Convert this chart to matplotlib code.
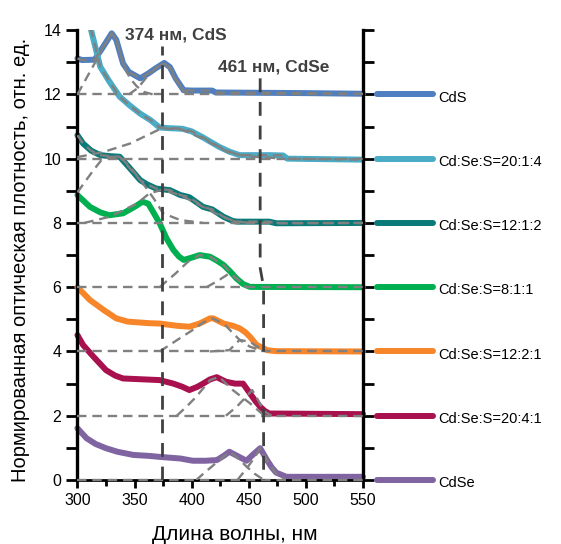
import matplotlib
matplotlib.use('Agg')
import matplotlib.pyplot as plt
from matplotlib.ticker import MultipleLocator

plt.rcParams['font.family'] = ['Liberation Sans', 'DejaVu Sans']

# --- data (wavelength, nm / offset optical density) ---
cds_x = [300, 304, 315, 322, 330, 334, 340, 345, 355, 362, 368, 376, 381, 386, 393, 400, 418, 421, 500, 550]
cds_y = [13.12, 13.07, 13.08, 13.45, 13.9, 13.7, 12.96, 12.7, 12.5, 12.65, 12.8, 12.98, 12.85, 12.5, 12.13, 12.12, 12.12, 12.06, 12.04, 12.02]

s2014_x = [300, 305, 312, 320, 328, 337, 346, 355, 364, 372, 380, 392, 400, 410, 424, 433, 442, 448, 468, 480, 484, 550]
s2014_y = [15.3, 14.7, 14.0, 12.86, 12.4, 11.93, 11.65, 11.4, 11.2, 10.97, 10.95, 10.93, 10.85, 10.66, 10.37, 10.22, 10.11, 10.11, 10.11, 10.1, 10.0, 9.97]

s1212_x = [300, 305, 312, 320, 328, 337, 346, 355, 361, 369, 381, 390, 398, 410, 418, 428, 436, 440, 468, 474, 550]
s1212_y = [10.73, 10.47, 10.25, 10.11, 10.08, 10.06, 9.7, 9.33, 9.2, 9.07, 9.02, 8.87, 8.8, 8.5, 8.42, 8.19, 8.06, 8.04, 8.04, 7.99, 8.0]

s811_x = [300, 305, 311, 320, 328, 340, 350, 357, 362, 367, 372, 378, 384, 389, 393, 400, 407, 416, 422, 428, 434, 439, 445, 451, 550]
s811_y = [8.87, 8.7, 8.5, 8.33, 8.24, 8.3, 8.5, 8.66, 8.6, 8.3, 7.99, 7.52, 7.16, 6.95, 6.85, 6.92, 7.0, 6.95, 6.83, 6.69, 6.48, 6.28, 6.1, 6.01, 6.0]

s1221_x = [300, 311, 323, 334, 344, 363, 372, 387, 398, 407, 416, 419, 428, 436, 442, 447, 451, 457, 462, 466, 474, 550]
s1221_y = [6.0, 5.6, 5.29, 5.03, 4.93, 4.88, 4.87, 4.8, 4.77, 4.87, 5.03, 5.03, 4.87, 4.8, 4.72, 4.6, 4.46, 4.2, 4.12, 4.04, 4.01, 4.0]

s2041_x = [300, 305, 314, 325, 333, 340, 372, 384, 392, 398, 405, 410, 416, 422, 430, 438, 445, 451, 456, 460, 464, 468, 550]
s2041_y = [4.51, 4.2, 3.84, 3.42, 3.25, 3.16, 3.11, 3.0, 2.9, 2.8, 2.9, 3.0, 3.13, 3.2, 3.06, 3.0, 3.0, 2.7, 2.45, 2.28, 2.15, 2.07, 2.05]

cdse_x = [300, 308, 316, 325, 335, 349, 363, 372, 390, 401, 412, 422, 428, 433, 440, 448, 454, 460, 466, 470, 474, 483, 550]
cdse_y = [1.61, 1.3, 1.12, 0.99, 0.88, 0.78, 0.75, 0.72, 0.67, 0.6, 0.6, 0.62, 0.75, 0.88, 0.75, 0.6, 0.8, 0.99, 0.62, 0.4, 0.23, 0.1, 0.1]

# fitted components (grey dashed)
comp_x = [
    [300, 307, 315, 322, 330, 334, 340, 346, 352, 358, 366],
    [345, 353, 362, 368, 376, 381, 386, 393, 402],
    [300, 322, 346, 374, 392, 410, 433, 448, 465, 480],
    [300, 307, 314, 322, 330, 337, 346, 358, 367, 375, 390, 410],
    [306, 328, 352, 363, 374, 390, 410, 427, 440, 455],
    [372, 386, 397, 407, 416, 428, 439, 448],
    [413, 423, 433, 440, 448],
    [372, 387, 401, 410, 418, 428, 442, 451, 461],
    [416, 433, 442, 451, 463],
    [387, 396, 404, 416, 424, 436, 451, 462],
    [430, 440, 448, 453, 458, 463, 470],
    [404, 412, 422, 433, 440, 448, 455, 462],
    [440, 448, 455, 460, 466, 474, 482],
]
comp_y = [
    [12.0, 12.45, 12.96, 13.45, 13.9, 13.7, 12.96, 12.5, 12.25, 12.08, 12.0],
    [12.0, 12.2, 12.6, 12.8, 12.96, 12.8, 12.45, 12.1, 12.0],
    [10.05, 10.2, 10.47, 10.95, 10.9, 10.62, 10.18, 10.08, 10.04, 10.0],
    [8.95, 9.3, 9.64, 10.0, 10.06, 10.06, 9.75, 9.2, 8.75, 8.3, 8.09, 8.0],
    [8.0, 8.19, 8.6, 8.92, 9.03, 8.87, 8.5, 8.19, 8.03, 8.0],
    [6.0, 6.43, 6.8, 7.0, 6.95, 6.69, 6.28, 6.0],
    [6.0, 6.2, 6.43, 6.25, 6.0],
    [4.0, 4.35, 4.67, 4.9, 5.03, 4.87, 4.36, 4.15, 4.03],
    [4.0, 4.04, 4.36, 4.3, 4.03],
    [2.0, 2.3, 2.59, 3.11, 3.21, 2.8, 2.39, 2.05],
    [2.0, 2.3, 2.6, 2.8, 2.5, 2.15, 2.0],
    [0.0, 0.25, 0.55, 0.88, 0.7, 0.42, 0.2, 0.03],
    [0.0, 0.35, 0.7, 0.99, 0.6, 0.2, 0.0],
]

series_x = [cds_x, s2014_x, s1212_x, s811_x, s1221_x, s2041_x, cdse_x]
series_y = [cds_y, s2014_y, s1212_y, s811_y, s1221_y, s2041_y, cdse_y]
names = ['CdS', 'Cd:Se:S=20:1:4', 'Cd:Se:S=12:1:2', 'Cd:Se:S=8:1:1',
         'Cd:Se:S=12:2:1', 'Cd:Se:S=20:4:1', 'CdSe']
colors = ['#4f7fc0', '#4bacc6', '#0a7a78', '#00b050', '#f7862a', '#a8104e', '#8064a2']
baselines = [12, 10, 8, 6, 4, 2, 0]
fit_shown = [True, True, True, False, False, False, False]

peaks = [374, 461]
peak_labels = ['374 нм, CdS', '461 нм, CdSe']

fig = plt.figure(figsize=(5.61, 5.44), dpi=100)
ax = fig.add_axes([0.138, 0.1176, 0.509, 0.827])

grey = '#808080'
for x, y, c, b, fit in zip(series_x, series_y, colors, baselines, fit_shown):
    ax.plot(x, y, color=c, lw=4.3, solid_capstyle='round', solid_joinstyle='round',
            zorder=2, clip_on=(max(y) > 14))
    ax.plot([300, 550], [b, b], color=grey, lw=1.7, dashes=(4, 2.5), zorder=3, clip_on=False)
    if fit:
        ax.plot(x, y, color=grey, lw=1.7, dashes=(4, 2.5), zorder=3)

for cx, cy in zip(comp_x, comp_y):
    ax.plot(cx, cy, color=grey, lw=1.7, dashes=(4, 2.5), zorder=3)

# vertical markers
ax.plot([peaks[0], peaks[0]], [0, 13.5], color='#404040', lw=2, dashes=(5, 3.5), zorder=4)
ax.plot([peaks[1] - 1, peaks[1] - 1, peaks[1] + 2, peaks[1] + 2], [12.5, 6.6, 6.0, 0],
        color='#404040', lw=2, dashes=(5, 3.5), zorder=4)
ax.text(342, 13.85, peak_labels[0], fontsize=12.5, fontweight='bold', color='#404040',
        va='center', ha='left')
ax.text(423, 12.85, peak_labels[1], fontsize=12.5, fontweight='bold', color='#404040',
        va='center', ha='left')

# legend as line samples beside the right axis
for n, c, b in zip(names, colors, baselines):
    ax.plot([562, 611], [b, b], color=c, lw=4.3, solid_capstyle='round', clip_on=False)
    ax.text(616, b - 0.1, n, fontsize=10.5, va='center', ha='left')

ax.set_xlim(300, 550)
ax.set_ylim(0, 14)
ax.xaxis.set_major_locator(MultipleLocator(50))
ax.xaxis.set_minor_locator(MultipleLocator(25))
ax.yaxis.set_major_locator(MultipleLocator(2))
ax.yaxis.set_minor_locator(MultipleLocator(1))
ax.tick_params(which='both', direction='out', width=2, labelsize=11.5)
ax.tick_params(axis='y', which='both', length=8, right=True)
ax.tick_params(axis='x', which='major', length=6)
ax.tick_params(axis='x', which='minor', length=4)
ax.spines['top'].set_visible(False)
for s in ['left', 'right']:
    ax.spines[s].set_linewidth(2.4)
ax.spines['bottom'].set_linewidth(2)

ax.set_xlabel('Длина волны, нм', fontsize=15, labelpad=12)
ax.xaxis.set_label_coords(0.55, -0.1)
ax.set_ylabel('Нормированная оптическая плотность, отн. ед.', fontsize=14.5, labelpad=4)
ax.yaxis.set_label_coords(-0.165, 0.49)

plt.savefig('out.png', dpi=100)
